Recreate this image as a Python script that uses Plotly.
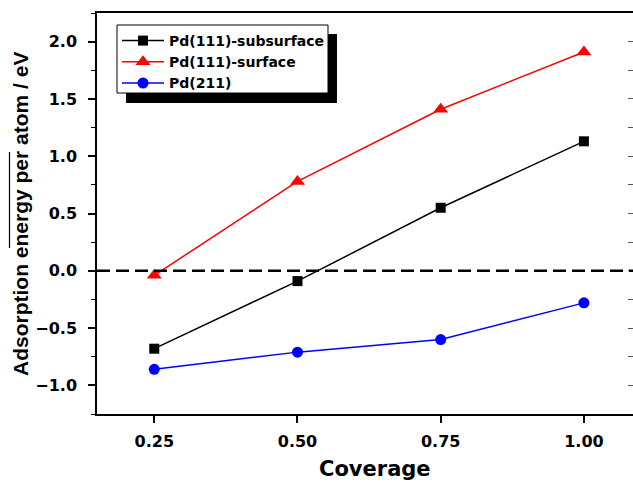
import plotly.graph_objects as go

coverage = [0.25, 0.50, 0.75, 1.00]
subsurface = [-0.68, -0.09, 0.55, 1.13]
surface = [-0.04, 0.78, 1.41, 1.91]
pd211 = [-0.86, -0.71, -0.60, -0.28]
series_names = ["Pd(111)-subsurface", "Pd(111)-surface", "Pd(211)"]
x_tick_vals = [0.25, 0.50, 0.75, 1.00]
x_tick_text = ["0.25", "0.50", "0.75", "1.00"]

W, H = 633, 482
L, R, T, B = 97, 0, 13, 68
pw, ph = W - L - R, H - T - B

def px(x):
    return (x - L) / pw

def py(y):
    return (H - B - y) / ph

fig = go.Figure()
fig.add_trace(go.Scatter(x=coverage, y=subsurface, name=series_names[0], mode="lines+markers",
                         line=dict(color="#000000", width=1.5),
                         marker=dict(symbol="square", size=10, color="#000000")))
fig.add_trace(go.Scatter(x=coverage, y=surface, name=series_names[1], mode="lines+markers",
                         line=dict(color="#ff0000", width=1.5),
                         marker=dict(symbol="triangle-up", size=13, color="#ff0000")))
fig.add_trace(go.Scatter(x=coverage, y=pd211, name=series_names[2], mode="lines+markers",
                         line=dict(color="#0000ff", width=1.5),
                         marker=dict(symbol="circle", size=11, color="#0000ff")))
# helper so the right-hand (inward ticks) axis is drawn
fig.add_trace(go.Scatter(x=[None], y=[None], yaxis="y2", showlegend=False, hoverinfo="skip"))

fig.add_hline(y=0, line=dict(color="#000000", width=2.5, dash="13px,6px"))

# legend shadow and frame
fig.add_shape(type="rect", xref="paper", yref="paper",
              x0=px(126), x1=px(337), y0=py(103), y1=py(34),
              fillcolor="#000000", line=dict(width=0), layer="above")
fig.add_shape(type="rect", xref="paper", yref="paper",
              x0=px(117), x1=px(328), y0=py(93), y1=py(25),
              fillcolor="#ffffff", line=dict(color="#000000", width=1), layer="above")
# overline on the y title
fig.add_shape(type="line", xref="paper", yref="paper",
              x0=px(9.5), x1=px(9.5), y0=py(152), y1=py(248),
              line=dict(color="#000000", width=1.2))

fig.add_annotation(text="Adsorption energy per atom / eV", textangle=-90,
                   xref="paper", yref="paper", x=px(20), y=py(214),
                   xanchor="center", yanchor="middle", showarrow=False,
                   font=dict(family="Liberation Sans", size=21, color="#000000", weight="bold"))
fig.add_annotation(text="Coverage", xref="paper", yref="paper", x=px(375), y=py(469),
                   xanchor="center", yanchor="middle", showarrow=False,
                   font=dict(family="DejaVu Sans", size=21, color="#000000", weight="bold"))

tickfont = dict(family="DejaVu Sans", size=16, color="#000000", weight="bold")
fig.update_layout(
    width=W, height=H,
    margin=dict(l=L, r=R, t=T, b=B, autoexpand=False),
    paper_bgcolor="white", plot_bgcolor="white",
    xaxis=dict(range=[0.15, 1.0857], tickvals=x_tick_vals, ticktext=x_tick_text, automargin=False,
               showgrid=False, zeroline=False, showline=True, linecolor="#000000", linewidth=1.5,
               mirror=True, ticks="outside", ticklen=7, tickwidth=1.5, tickcolor="#000000",
               tickfont=tickfont, ticklabelstandoff=5),
    yaxis=dict(range=[-1.25, 2.25], dtick=0.5, tick0=0, tickformat=".1f", automargin=False,
               showgrid=False, zeroline=False, showline=True, linecolor="#000000", linewidth=1.5,
               ticks="outside", ticklen=7, tickwidth=1.5, tickcolor="#000000",
               minor=dict(dtick=0.25, tick0=0, ticks="outside", ticklen=4, tickwidth=1.2, tickcolor="#000000"),
               tickfont=tickfont, ticklabelstandoff=8),
    yaxis2=dict(range=[-1.25, 2.25], dtick=0.25, tick0=0, overlaying="y", side="right", automargin=False,
                showgrid=False, zeroline=False, showline=False, showticklabels=False,
                ticks="inside", ticklen=5, tickwidth=1.2, tickcolor="#555555"),
    legend=dict(x=px(117), y=py(25), xanchor="left", yanchor="top",
                bgcolor="rgba(0,0,0,0)", borderwidth=0,
                font=dict(family="DejaVu Sans", size=14, color="#000000", weight="bold"),
                tracegroupgap=0, itemwidth=42),
    showlegend=True,
)

fig.write_html("out.html", config={"displayModeBar": False},
               post_script="document.body.style.margin='0';document.body.style.overflow='hidden';")
